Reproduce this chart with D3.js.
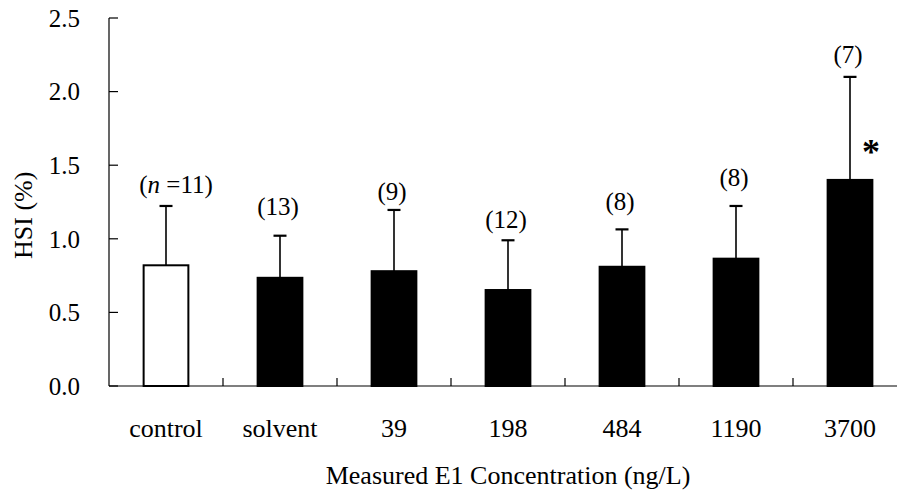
<!DOCTYPE html>
<html>
<head>
<meta charset="utf-8">
<script src="https://cdn.jsdelivr.net/npm/d3@7"></script>
<style>
  body { margin: 0; background: #fff; }
</style>
</head>
<body>
<svg id="chart" width="897" height="496"></svg>
<script>
// data
const categories = ['control', 'solvent', '39', '198', '484', '1190', '3700'];
const means = [0.82, 0.735, 0.78, 0.652, 0.81, 0.865, 1.40];
const errTops = [1.223, 1.021, 1.196, 0.99, 1.064, 1.223, 2.10];
const nLabels = ['=11', '13', '9', '12', '8', '8', '7'];
const labelAt = [1.311, 1.162, 1.264, 1.073, 1.196, 1.359, 2.194];
const yTicks = [0, 0.5, 1.0, 1.5, 2.0, 2.5];
const significant = [false, false, false, false, false, false, true];

const FONT = 'Liberation Serif';

const svg = d3.select('svg#chart');
const margin = {top: 18, right: -10, bottom: 110, left: 109};
const width = +svg.attr('width') - margin.left - margin.right;
const height = +svg.attr('height') - margin.top - margin.bottom;
const g = svg.append('g').attr('transform', `translate(${margin.left},${margin.top})`);

const x = d3.scaleBand().domain(categories).range([0, width]).paddingInner(0.59).paddingOuter(0.295);
const y = d3.scaleLinear().domain([0, 2.5]).range([height, 0]);

// y axis, ticks pointing inward
g.append('line').attr('x1', 0).attr('x2', 0).attr('y1', 0).attr('y2', height)
  .attr('stroke', '#000').attr('stroke-width', 1.2);
g.selectAll('.ytick').data(yTicks).join('line')
  .attr('x1', 0).attr('x2', 9)
  .attr('y1', d => y(d)).attr('y2', d => y(d))
  .attr('stroke', '#000').attr('stroke-width', 1.2);
g.selectAll('.ylab').data(yTicks).join('text')
  .attr('x', -29).attr('y', d => y(d)).attr('dy', '0.35em')
  .attr('text-anchor', 'end').attr('font-family', FONT).attr('font-size', 25)
  .text(d3.format('.1f'));

// x axis with separator ticks between categories
const step = x.step();
g.append('line').attr('x1', 0).attr('x2', width).attr('y1', height).attr('y2', height)
  .attr('stroke', '#000').attr('stroke-width', 1.2);
g.selectAll('.xtick').data(categories.slice(1)).join('line')
  .attr('x1', d => x(d) - (step - x.bandwidth()) / 2)
  .attr('x2', d => x(d) - (step - x.bandwidth()) / 2)
  .attr('y1', height).attr('y2', height - 8)
  .attr('stroke', '#000').attr('stroke-width', 1.2);
g.selectAll('.xlab').data(categories).join('text')
  .attr('x', d => x(d) + x.bandwidth() / 2).attr('y', height + 51)
  .attr('text-anchor', 'middle').attr('font-family', FONT).attr('font-size', 26)
  .text(d => d);

// error bars (upper only)
const cx = (d, i) => x(categories[i]) + x.bandwidth() / 2;
g.selectAll('.err').data(errTops).join('line')
  .attr('x1', cx).attr('x2', cx)
  .attr('y1', (d, i) => y(means[i])).attr('y2', d => y(d))
  .attr('stroke', '#000').attr('stroke-width', 1.6);
g.selectAll('.cap').data(errTops).join('line')
  .attr('x1', (d, i) => cx(d, i) - 6.5).attr('x2', (d, i) => cx(d, i) + 6.5)
  .attr('y1', d => y(d)).attr('y2', d => y(d))
  .attr('stroke', '#000').attr('stroke-width', 2.2);

// bars
g.selectAll('.bar').data(means).join('rect')
  .attr('x', (d, i) => x(categories[i]) + 1)
  .attr('width', x.bandwidth() - 2)
  .attr('y', d => y(d))
  .attr('height', d => height - y(d))
  .attr('fill', (d, i) => i === 0 ? '#fff' : '#000')
  .attr('stroke', '#000').attr('stroke-width', 2);

// n labels (the first one, with "n =", sits a little to the right)
const lab = g.selectAll('.nlab').data(nLabels).join('text')
  .attr('x', (d, i) => cx(d, i)).attr('y', (d, i) => y(labelAt[i]))
  .attr('dx', (d, i) => i === 0 ? 10 : -2)
  .attr('text-anchor', 'middle').attr('font-family', FONT).attr('font-size', 25);
lab.each(function (d, i) {
  const t = d3.select(this);
  t.append('tspan').text('(');
  if (i === 0) t.append('tspan').attr('font-style', 'italic').text('n ');
  t.append('tspan').text(d + ')');
});

// significance marks
g.selectAll('.sig').data(means.filter((d, i) => significant[i])).join('text')
  .attr('x', d => cx(d, means.indexOf(d)) + 21)
  .attr('y', d => y(d) - 16)
  .attr('text-anchor', 'middle').attr('font-family', FONT)
  .attr('font-size', 36).attr('font-weight', 'bold')
  .text('*');

// axis titles
svg.append('text')
  .attr('transform', `translate(32,${margin.top + y(1.16)}) rotate(-90)`)
  .attr('text-anchor', 'middle').attr('font-family', FONT).attr('font-size', 26)
  .text('HSI (%)');
svg.append('text')
  .attr('x', 508).attr('y', 484)
  .attr('text-anchor', 'middle').attr('font-family', FONT).attr('font-size', 26)
  .text('Measured E1 Concentration (ng/L)');
</script>
</body>
</html>
